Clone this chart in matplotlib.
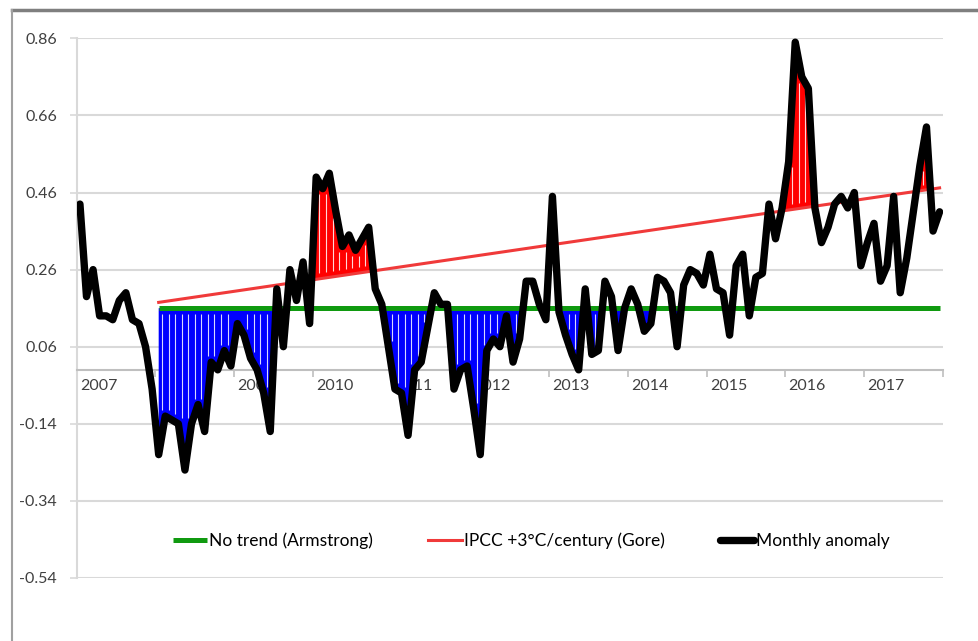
# Monthly temperature anomaly vs. "no trend" and IPCC trend lines
# Jan 2007 - Dec 2017

import numpy as np
import matplotlib.pyplot as plt
from matplotlib.lines import Line2D

# %%

years = ["2007", "2008", "2009", "2010", "2011", "2012",
         "2013", "2014", "2015", "2016", "2017"]

anomaly = [
    0.43, 0.19, 0.26, 0.14, 0.14, 0.13, 0.18, 0.20, 0.13, 0.12, 0.06, -0.05,   # 2007
    -0.22, -0.12, -0.13, -0.14, -0.26, -0.14, -0.09, -0.16, 0.02, 0.00, 0.05, 0.01,  # 2008
    0.12, 0.09, 0.03, 0.00, -0.06, -0.16, 0.21, 0.06, 0.26, 0.18, 0.28, 0.12,   # 2009
    0.50, 0.47, 0.51, 0.41, 0.32, 0.35, 0.31, 0.34, 0.37, 0.21, 0.17, 0.06,     # 2010
    -0.05, -0.06, -0.17, 0.00, 0.02, 0.11, 0.20, 0.17, 0.17, -0.05, 0.00, 0.01,  # 2011
    -0.10, -0.22, 0.05, 0.08, 0.06, 0.14, 0.02, 0.08, 0.23, 0.23, 0.17, 0.13,   # 2012
    0.45, 0.15, 0.09, 0.04, 0.00, 0.21, 0.04, 0.05, 0.23, 0.19, 0.05, 0.16,     # 2013
    0.21, 0.17, 0.10, 0.12, 0.24, 0.23, 0.20, 0.06, 0.22, 0.26, 0.25, 0.22,     # 2014
    0.30, 0.21, 0.20, 0.09, 0.27, 0.30, 0.14, 0.24, 0.25, 0.43, 0.34, 0.42,     # 2015
    0.54, 0.85, 0.76, 0.73, 0.42, 0.33, 0.37, 0.43, 0.45, 0.42, 0.46, 0.27,     # 2016
    0.33, 0.38, 0.23, 0.27, 0.45, 0.20, 0.29, 0.41, 0.53, 0.63, 0.36, 0.41,     # 2017
]

# both trend lines start in Jan 2008 (month 12)
trend_start = 12
no_trend = 0.16
ipcc_start = 0.175
ipcc_end = 0.472

yticks = [0.86, 0.66, 0.46, 0.26, 0.06, -0.14, -0.34, -0.54]

# %%

anomaly = np.array(anomaly)
months = np.arange(len(anomaly))
m = months[trend_start:]
a = anomaly[trend_start:]
ipcc = np.interp(m, [m[0], m[-1]], [ipcc_start, ipcc_end])

plt.rcParams['font.family'] = ['Lato', 'DejaVu Sans']

fig = plt.figure(figsize=(9.79, 6.41), dpi=100)
ax = fig.add_axes([0.0783, 0.0983, 0.8848, 0.8419])

# blue where below "no trend", red where above the IPCC line
ax.fill_between(m, a, no_trend, where=a < no_trend, interpolate=True,
                color='#0000ff', lw=0, zorder=2)
ax.fill_between(m, a, ipcc, where=a > ipcc, interpolate=True,
                color='#ff0000', lw=0, zorder=2)

# thin white gaps between the monthly columns, like the original
mid = m[:-1] + 0.5
ipcc_mid = (ipcc[:-1] + ipcc[1:]) / 2
lo = np.maximum(a[:-1], a[1:])
hi = np.minimum(a[:-1], a[1:])
blue_gap = lo < no_trend - 0.04
red_gap = hi > ipcc_mid + 0.04
ax.vlines(mid[blue_gap], lo[blue_gap] + 0.015, no_trend - 0.015,
          color='white', lw=0.8, alpha=0.85, zorder=2.5)
ax.vlines(mid[red_gap], ipcc_mid[red_gap] + 0.015, hi[red_gap] - 0.015,
          color='white', lw=0.8, alpha=0.85, zorder=2.5)

ax.plot([m[0], m[-1]], [no_trend, no_trend], color='#109a10', lw=3.6,
        solid_capstyle='butt', zorder=3, label='No trend (Armstrong)')
ax.plot([m[0], m[-1]], [ipcc_start, ipcc_end], color='#f03a3a', lw=2.2,
        zorder=3, label='IPCC +3\u00b0C/century (Gore)')
ax.plot(months, anomaly, color='black', lw=5.3, solid_joinstyle='round',
        solid_capstyle='round', zorder=4, label='Monthly anomaly')

ax.set_xlim(-0.5, len(anomaly) - 0.5)
ax.set_ylim(-0.54, 0.86)

# y axis: light grid, gray labels
ax.set_yticks(yticks)
ax.set_yticklabels(['%.2f' % v for v in yticks])
ax.yaxis.grid(True, color='#d9d9d9', lw=1.5)
ax.set_axisbelow(True)
ax.tick_params(axis='y', length=5, width=1.2, color='#d9d9d9',
               labelsize=11.5, labelcolor='#404040', pad=9)

# category axis crossing at zero, ticks between years
for s in ['top', 'right']:
    ax.spines[s].set_visible(False)
ax.spines['left'].set_color('#d9d9d9')
ax.spines['left'].set_linewidth(1.5)
ax.spines['bottom'].set_position(('data', 0))
ax.spines['bottom'].set_color('#bfbfbf')
ax.spines['bottom'].set_linewidth(1.5)
ax.spines['bottom'].set_zorder(0.8)
ax.spines['left'].set_zorder(0.8)
ax.set_xticks(np.arange(11.5, len(anomaly), 12))
ax.set_xticklabels([])
ax.tick_params(axis='x', length=5, width=1.2, color='#bfbfbf')

# year labels sit under the fills, left aligned on January
for k, yr in enumerate(years):
    ax.text(k * 12, -0.025, yr, ha='left', va='top', fontsize=11.5,
            color='#404040', zorder=0.9)

ax.legend(loc='center left', bbox_to_anchor=(0.168, 0.156),
          bbox_transform=fig.transFigure, ncol=3, frameon=False,
          fontsize=12.5, handlelength=1.95, handletextpad=0.1,
          columnspacing=3.2, borderpad=0)

# frame from the screenshot
fig.add_artist(Line2D([0.012, 1.0], [0.984, 0.984], color='#7f7f7f', lw=2.5))
fig.add_artist(Line2D([0.012, 0.012], [0.0, 0.984], color='#a0a0a0', lw=1.5))

fig.savefig('out.png', dpi=100)
